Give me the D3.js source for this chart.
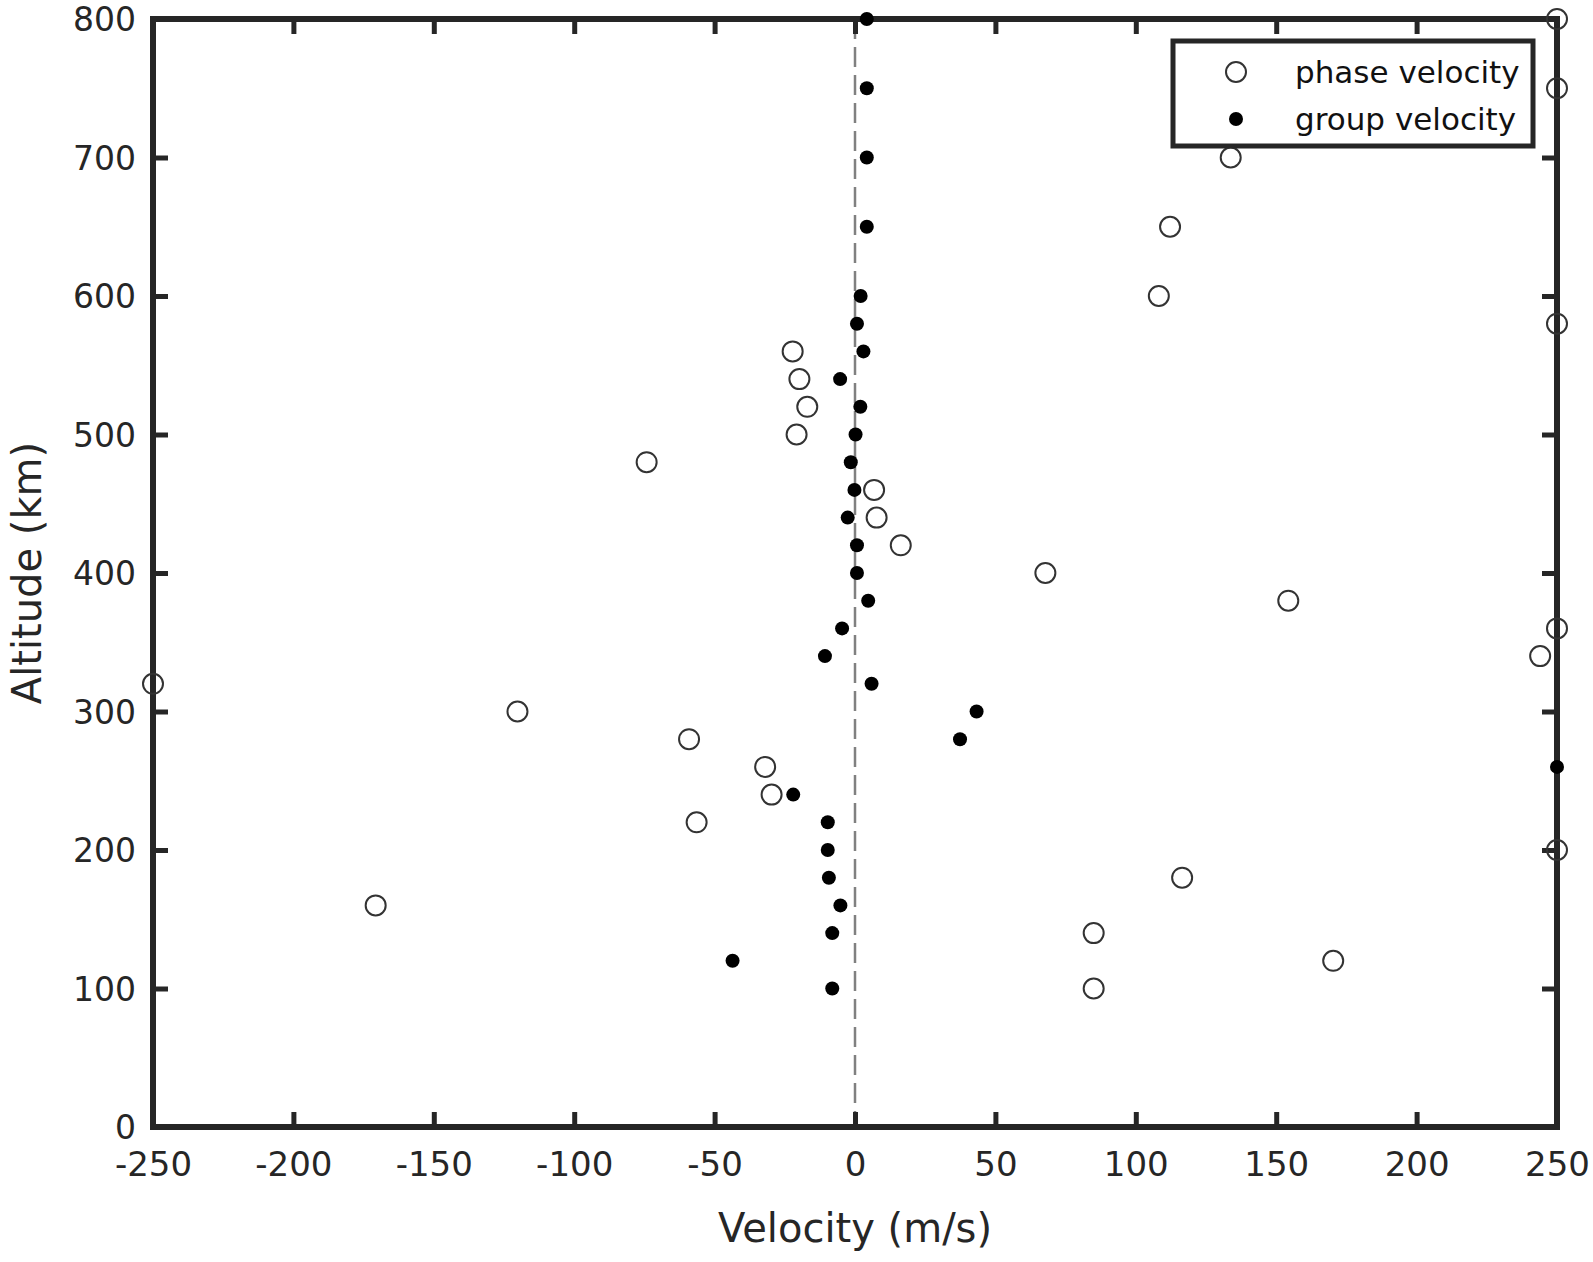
<!DOCTYPE html>
<html>
<head>
<meta charset="utf-8">
<script src="https://cdn.jsdelivr.net/npm/d3@7"></script>
<style>
  html, body { margin: 0; padding: 0; background: #fff; }
  svg { display: block; }
</style>
</head>
<body>
<svg id="chart" width="1593" height="1262"></svg>
<script>
// ---- Data ----
const altitudes = [800,750,700,650,600,580,560,540,520,500,480,460,440,420,400,380,360,340,320,300,280,260,240,220,200,180,160,140,120,100];
const phaseVelocity = [250,250,133.8,112.2,108.2,250,-22.2,-19.8,-17,-20.8,-74.2,6.8,7.7,16.3,67.8,154.3,250,244,-250,-120.2,-59.1,-32,-29.7,-56.4,250,116.5,-170.7,85,170.3,85];
const groupVelocity = [4.2,4.2,4.2,4.2,2.0,0.7,3.0,-5.3,1.9,0.2,-1.5,-0.2,-2.6,0.7,0.7,4.7,-4.6,-10.7,5.9,43.3,37.4,250,-22,-9.7,-9.7,-9.3,-5.2,-8.1,-43.6,-8.1];
const xTicks = [-250,-200,-150,-100,-50,0,50,100,150,200,250];
const yTicks = [0,100,200,300,400,500,600,700,800];
const seriesNames = ["phase velocity", "group velocity"];
const xLabel = "Velocity (m/s)";
const yLabel = "Altitude (km)";

// ---- Layout ----
const svg = d3.select("#chart");
const L = 153, R = 1557, T = 19, B = 1127;
const axisColor = "#262626";
const font = "'DejaVu Sans', 'Liberation Sans', Arial, sans-serif";
const fmt = d => String(d);

const x = d3.scaleLinear().domain([-250, 250]).range([L, R]);
const y = d3.scaleLinear().domain([0, 800]).range([B, T]);

// zero dashed line
svg.append("line")
  .attr("x1", x(0)).attr("x2", x(0))
  .attr("y1", y(800)).attr("y2", y(0))
  .attr("stroke", "#808080").attr("stroke-width", 2.5)
  .attr("stroke-dasharray", "20,8");

// axes
function styleAxis(g) {
  g.select(".domain").remove();
  g.selectAll(".tick line").attr("stroke", axisColor).attr("stroke-width", 5);
  g.selectAll(".tick text").attr("fill", axisColor)
    .style("font-family", font).style("font-size", "34px");
}
svg.append("g").attr("transform", `translate(0,${B})`)
  .call(d3.axisBottom(x).tickValues(xTicks).tickSize(-15).tickPadding(25).tickFormat(fmt))
  .call(styleAxis);
svg.append("g").attr("transform", `translate(0,${T})`)
  .call(d3.axisTop(x).tickValues(xTicks).tickSize(-15).tickFormat(""))
  .call(styleAxis);
svg.append("g").attr("transform", `translate(${L},0)`)
  .call(d3.axisLeft(y).tickValues(yTicks).tickSize(-15).tickPadding(17).tickFormat(fmt))
  .call(styleAxis)
  .call(g => g.selectAll(".tick text").style("font-size", "33px").attr("dy", "0.36em"));
svg.append("g").attr("transform", `translate(${R},0)`)
  .call(d3.axisRight(y).tickValues(yTicks).tickSize(-15).tickFormat(""))
  .call(styleAxis);

// box
svg.append("rect")
  .attr("x", L).attr("y", T).attr("width", R - L).attr("height", B - T)
  .attr("fill", "none").attr("stroke", axisColor).attr("stroke-width", 6);

// axis labels
svg.append("text")
  .attr("x", (L + R) / 2).attr("y", 1242)
  .attr("text-anchor", "middle")
  .attr("fill", axisColor)
  .style("font-family", font).style("font-size", "40px")
  .text(xLabel);
svg.append("text")
  .attr("transform", `translate(41,${(T + B) / 2}) rotate(-90)`)
  .attr("text-anchor", "middle")
  .attr("fill", axisColor)
  .style("font-family", font).style("font-size", "40px")
  .text(yLabel);

// points
const phaseData = altitudes.map((a, i) => ({ alt: a, v: phaseVelocity[i] }));
const groupData = altitudes.map((a, i) => ({ alt: a, v: groupVelocity[i] }));

svg.append("g").selectAll("circle").data(phaseData).join("circle")
  .attr("cx", d => x(d.v)).attr("cy", d => y(d.alt)).attr("r", 10)
  .attr("fill", "none").attr("stroke", "#333").attr("stroke-width", 2);

svg.append("g").selectAll("circle").data(groupData).join("circle")
  .attr("cx", d => x(d.v)).attr("cy", d => y(d.alt)).attr("r", 7)
  .attr("fill", "#000");

// legend
const lg = svg.append("g");
lg.append("rect")
  .attr("x", 1173).attr("y", 41).attr("width", 360).attr("height", 105)
  .attr("fill", "#fff").attr("stroke", axisColor).attr("stroke-width", 5);
lg.append("circle").attr("cx", 1236).attr("cy", 72).attr("r", 10)
  .attr("fill", "none").attr("stroke", "#333").attr("stroke-width", 2);
lg.append("circle").attr("cx", 1236).attr("cy", 119).attr("r", 7).attr("fill", "#000");
lg.selectAll("text.leg").data(seriesNames).join("text")
  .attr("class", "leg")
  .attr("x", 1295).attr("y", (d, i) => 83 + i * 47)
  .attr("fill", "#111")
  .style("font-family", font).style("font-size", "31px")
  .text(d => d);
</script>
</body>
</html>
